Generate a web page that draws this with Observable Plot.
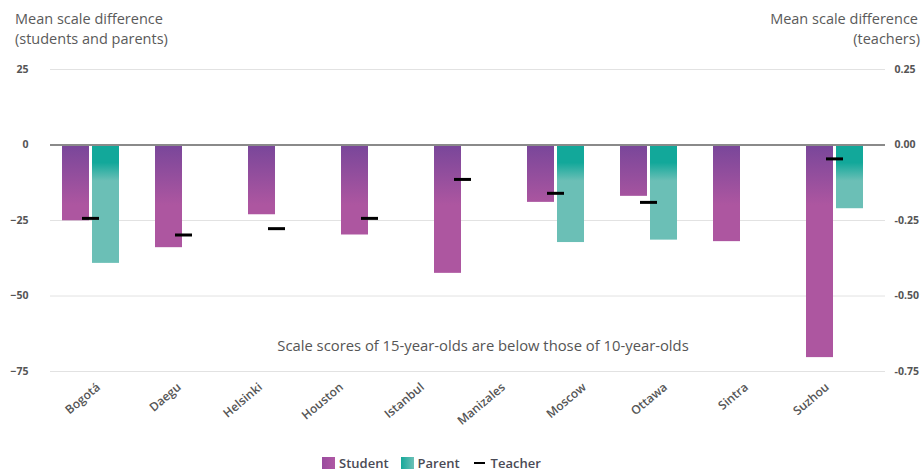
<!DOCTYPE html>
<html><head><meta charset="utf-8">
<script src="https://cdn.jsdelivr.net/npm/d3@7"></script>
<script src="https://cdn.jsdelivr.net/npm/@observablehq/plot@0.6"></script>
<style>
body{margin:0;background:#fff;font-family:"Open Sans",sans-serif;}
#wrap{position:relative;width:922px;height:472px;overflow:hidden;background:#fff;}
.t{position:absolute;font-size:14.5px;line-height:20px;height:20px;color:#5a5a5a;white-space:nowrap;}
#wrap svg{position:absolute;left:0;top:0;}
#legend{position:absolute;top:456px;left:322px;height:14px;display:flex;align-items:center;font-size:13px;font-weight:600;color:#4a4a55;white-space:nowrap;}
#legend .sw{display:inline-block;width:13px;height:12px;margin-right:4px;}
#legend .dash{display:inline-block;width:11px;height:2.5px;background:#000;margin-right:6px;}
</style></head><body>
<div id="wrap">
  <div class="t" style="left:15px;top:9px;">Mean scale difference</div>
  <div class="t" style="left:15px;top:29px;">(students and parents)</div>
  <div class="t" style="right:4px;top:9px;text-align:right;">Mean scale difference</div>
  <div class="t" style="right:2px;top:29px;text-align:right;">(teachers)</div>
  <div id="legend">
    <span class="sw" style="background:linear-gradient(to right,#9a4c9f,#b058a4)"></span><span style="margin-right:12px">Student</span>
    <span class="sw" style="background:linear-gradient(to right,#16a99a,#6cc0b7)"></span><span style="margin-right:14px">Parent</span>
    <span class="dash"></span><span>Teacher</span>
  </div>
</div>
<script>
const groups = ["Bogotá","Daegu","Helsinki","Houston","Istanbul","Moscow","Ottawa","Sintra","Suzhou"];
const studentValues = [-25.1,-34.0,-23.1,-29.8,-42.5,-19.0,-17.0,-32.0,-70.4];
const parentGroups = ["Bogotá","Moscow","Ottawa","Suzhou"];
const parentValues = [-39.2,-32.3,-31.5,-21.1];
const teacherGroups = ["Bogotá","Daegu","Helsinki","Houston","Istanbul","Moscow","Ottawa","Suzhou"];
const teacherValues = [-0.243,-0.298,-0.277,-0.243,-0.114,-0.16,-0.19,-0.046];
const xLabels = ["Bogotá","Daegu","Helsinki","Houston","Istanbul","Manizales","Moscow","Ottawa","Sintra","Suzhou"];
const leftTicks = [25,0,-25,-50,-75];
const gridTicks = [25,-25,-50,-75];
const annotation = "Scale scores of 15-year-olds are below those of 10-year-olds";
const teacherFactor = 100; // right axis: 0.25 on teacher scale = 25 on left scale

const student = groups.map((g,i)=>({group:g, value:studentValues[i]}));
const parent = parentGroups.map((g,i)=>({group:g, value:parentValues[i]}));
const teacher = teacherGroups.map((g,i)=>({group:g, value:teacherValues[i]*teacherFactor}));

const gradients = (index, scales) => {
  const y = scales.y || (scales.scales && scales.scales.y);
  const g = d3.create("svg:g");
  const defs = g.append("defs");
  const gs = defs.append("linearGradient").attr("id","gStudent").attr("gradientUnits","userSpaceOnUse")
    .attr("x1",0).attr("x2",0).attr("y1",y(-1)).attr("y2",y(-20));
  gs.append("stop").attr("offset",0).attr("stop-color","#7b479a");
  gs.append("stop").attr("offset",1).attr("stop-color","#ad56a0");
  const gp = defs.append("linearGradient").attr("id","gParent").attr("gradientUnits","userSpaceOnUse")
    .attr("x1",0).attr("x2",0).attr("y1",y(-6)).attr("y2",y(-12));
  gp.append("stop").attr("offset",0).attr("stop-color","#12a89a");
  gp.append("stop").attr("offset",1).attr("stop-color","#6bbfb6");
  return g.node();
};

const main = Plot.plot({
  width: 922, height: 400,
  marginTop: 69, marginBottom: 29, marginLeft: 50, marginRight: 37,
  style: {background: "transparent", fontFamily: "Open Sans"},
  x: {type: "band", domain: groups, range: [44, 881], padding: 0, axis: null},
  y: {domain: [-75, 25], axis: null},
  marks: [
    gradients,
    Plot.ruleY(gridTicks, {stroke: "#e2e2e2", strokeWidth: 1}),
    Plot.barY(student, {x: "group", y1: 0, y2: "value", fill: "url(#gStudent)", insetLeft: 18, insetRight: 48}),
    Plot.barY(parent, {x: "group", y1: 0, y2: "value", fill: "url(#gParent)", insetLeft: 48, insetRight: 18}),
    Plot.ruleY([0], {stroke: "#8a8a8a", strokeWidth: 2}),
    Plot.tickY(teacher, {x: "group", y: "value", stroke: "#000", strokeWidth: 3, insetLeft: 38, insetRight: 38}),
    Plot.axisY(leftTicks, {anchor: "left", tickSize: 0, tickPadding: 22, fontSize: 10.5, fontWeight: 700, color: "#555", label: null}),
    Plot.axisY(leftTicks, {anchor: "right", tickSize: 0, tickPadding: 9, fontSize: 10.5, fontWeight: 700, color: "#555", label: null,
      tickFormat: d => (d / teacherFactor).toFixed(2)}),
    Plot.text([annotation], {frameAnchor: "bottom", dy: -21, dx: 15, fontSize: 14.8, fill: "#555"})
  ]
});

const labels = Plot.plot({
  width: 922, height: 472,
  marginTop: 69, marginBottom: 101, marginLeft: 50, marginRight: 37,
  style: {background: "transparent", fontFamily: "Open Sans"},
  x: {type: "point", domain: xLabels, range: [95, 830], padding: 0},
  marks: [
    Plot.axisX({anchor: "bottom", tickSize: 0, tickPadding: 14, tickRotate: -40, fontSize: 12, fontWeight: 600, color: "#555", label: null})
  ]
});

const wrap = document.getElementById("wrap");
wrap.appendChild(main);
wrap.appendChild(labels);
</script>
</body></html>
